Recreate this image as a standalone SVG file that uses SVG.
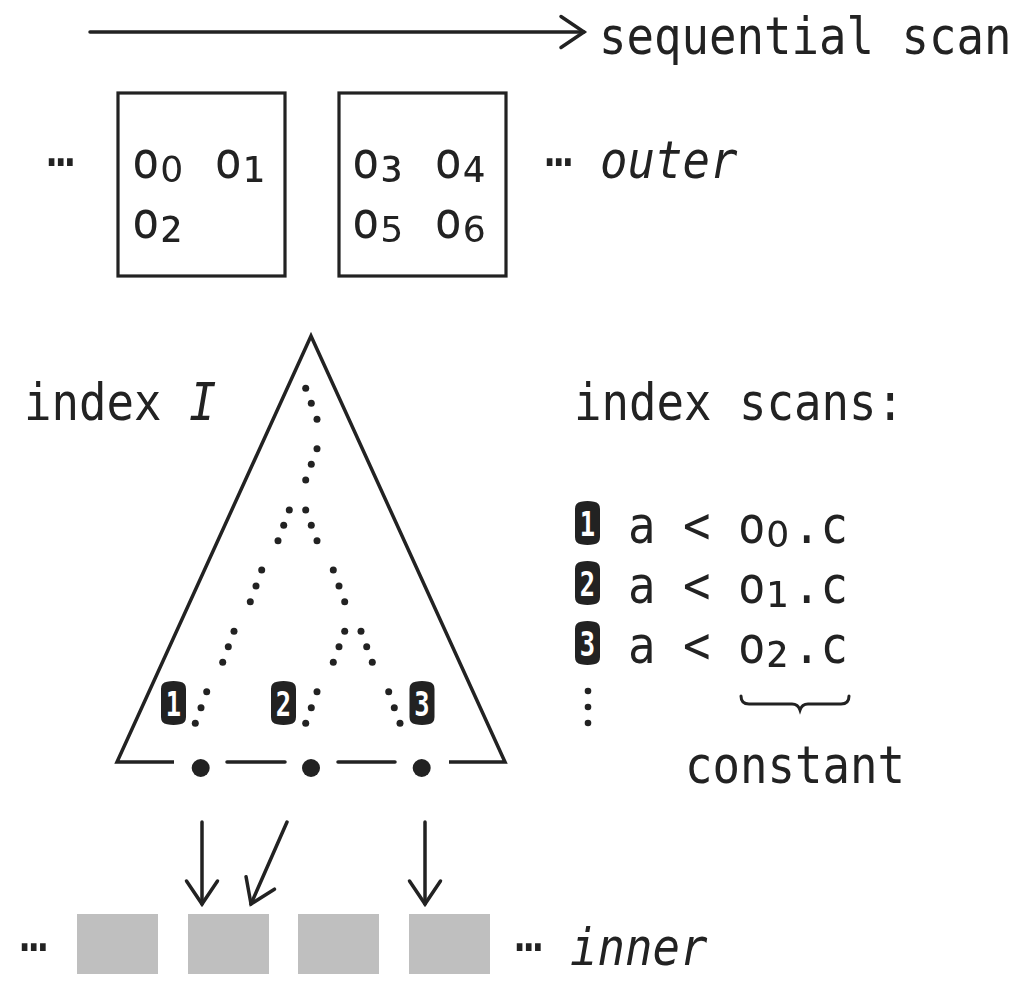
<svg xmlns="http://www.w3.org/2000/svg" width="1034" height="984" viewBox="0 0 1034 984">
<style>
 text { font-family: "DejaVu Sans Mono", monospace; font-size: 52px; fill: #222; }
 .it { font-style: italic; }
 .sub { font-family: "DejaVu Sans", sans-serif; font-size: 64px; }
 .num { font-size: 34px; font-weight: bold; fill: #fff; text-anchor: middle; }
 .ln { stroke: #222; stroke-width: 3.5; fill: none; stroke-linecap: round; }
 .box { fill: none; stroke: #222; stroke-width: 3.2; }
 .dot { fill: #222; }
 .blk { fill: #bfbfbf; }
 .badge { fill: #222; }
</style>
<defs>
 <marker id="ah" markerUnits="userSpaceOnUse" viewBox="-30 -20 36 40" markerWidth="36" markerHeight="40" refX="0" refY="0" orient="auto" overflow="visible">
  <path d="M-23,-15.5 L0,0 L-23,15.5" fill="none" stroke="#222" stroke-width="3.5" stroke-linecap="round" stroke-linejoin="miter"/>
 </marker>
 <path id="bdg" d="M0,8 Q0,1.5 6,0.8 Q12.5,-0.6 19,0.8 Q25,1.5 25,8 V36 Q25,42.5 19,43.2 Q12.5,44.6 6,43.2 Q0,42.5 0,36 Z"/>
</defs>

<g id="seq-label">
 <text transform="translate(599,54) scale(0.8785,1)">sequential scan</text>
</g>

<g id="outer">
 <text transform="translate(47,165.5) scale(0.8785,1)">…</text>
 <g id="page1">
  <rect class="box" x="118" y="93" width="167" height="183"/>
  <text transform="translate(132,178) scale(0.8785,1)"><tspan x="0">o</tspan><tspan class="sub" x="32.1" y="4">₀</tspan><tspan x="62.6" y="0"> o</tspan><tspan class="sub" x="126" y="4">₁</tspan></text>
  <text transform="translate(132,238) scale(0.8785,1)"><tspan x="0">o</tspan><tspan class="sub" x="32.1" y="4">₂</tspan></text>
 </g>
 <g id="page2">
  <rect class="box" x="339" y="93" width="167" height="183"/>
  <text transform="translate(352,178) scale(0.8785,1)"><tspan x="0">o</tspan><tspan class="sub" x="32.1" y="4">₃</tspan><tspan x="62.6" y="0"> o</tspan><tspan class="sub" x="126" y="4">₄</tspan></text>
  <text transform="translate(352,238) scale(0.8785,1)"><tspan x="0">o</tspan><tspan class="sub" x="32.1" y="4">₅</tspan><tspan x="62.6" y="0"> o</tspan><tspan class="sub" x="126" y="4">₆</tspan></text>
 </g>
 <text transform="translate(545,165.5) scale(0.8785,1)">…</text>
 <text class="it" transform="translate(600,178) scale(0.8785,1)">outer</text>
</g>

<g id="index">
 <text transform="translate(24,420) scale(0.8785,1)">index <tspan class="it">I</tspan></text>
 <path class="ln" style="stroke-linecap:butt;stroke-linejoin:miter" d="M174,762 H117 L311,336 L505,762 H449"/>
 <path class="ln" d="M227,762 H285 M338,762 H395"/>
 <circle class="dot" cx="200.7" cy="768" r="9"/>
 <circle class="dot" cx="311" cy="768" r="9"/>
 <circle class="dot" cx="421.7" cy="768" r="9"/>
 <g id="path-dots" class="dot">
  <circle cx="305.7" cy="388.3" r="3.5"/><circle cx="311.3" cy="403.3" r="3.5"/><circle cx="317" cy="419.3" r="3.5"/>
  <circle cx="317" cy="448.7" r="3.5"/><circle cx="311.3" cy="464.3" r="3.5"/><circle cx="305.7" cy="480" r="3.5"/>
  <circle cx="289.3" cy="510" r="3.5"/><circle cx="283.7" cy="525.3" r="3.5"/><circle cx="278" cy="540.7" r="3.5"/>
  <circle cx="305.7" cy="510" r="3.5"/><circle cx="311.3" cy="525.3" r="3.5"/><circle cx="317" cy="540.7" r="3.5"/>
  <circle cx="261.7" cy="570" r="3.5"/><circle cx="256" cy="586" r="3.5"/><circle cx="250.3" cy="601.7" r="3.5"/>
  <circle cx="333.3" cy="570" r="3.5"/><circle cx="339" cy="586" r="3.5"/><circle cx="344.7" cy="601.7" r="3.5"/>
  <circle cx="234" cy="631.3" r="3.5"/><circle cx="228.3" cy="646.7" r="3.5"/><circle cx="222.7" cy="662.3" r="3.5"/>
  <circle cx="344.7" cy="631.3" r="3.5"/><circle cx="339" cy="646.7" r="3.5"/><circle cx="333.3" cy="662.3" r="3.5"/>
  <circle cx="361" cy="631.3" r="3.5"/><circle cx="366.7" cy="646.7" r="3.5"/><circle cx="372.3" cy="662.3" r="3.5"/>
  <circle cx="206.7" cy="691.7" r="3.5"/><circle cx="201" cy="707.7" r="3.5"/><circle cx="195.3" cy="723.3" r="3.5"/>
  <circle cx="317" cy="691.7" r="3.5"/><circle cx="311.3" cy="707.7" r="3.5"/><circle cx="305.7" cy="723.3" r="3.5"/>
  <circle cx="388.7" cy="691.7" r="3.5"/><circle cx="394.3" cy="707.7" r="3.5"/><circle cx="400" cy="723.3" r="3.5"/>
 </g>
 <g id="tbadge1"><use href="#bdg" class="badge" x="161" y="681"/><text class="num" transform="translate(173.5,716) scale(0.75,1)">1</text></g>
 <g id="tbadge2"><use href="#bdg" class="badge" x="271" y="681"/><text class="num" transform="translate(283.5,716) scale(0.75,1)">2</text></g>
 <g id="tbadge3"><use href="#bdg" class="badge" x="409.5" y="681"/><text class="num" transform="translate(422,716) scale(0.75,1)">3</text></g>
</g>

<g id="scans">
 <text transform="translate(574,420) scale(0.8785,1)">index scans:</text>
 <g id="scan1"><use href="#bdg" class="badge" x="575" y="501"/><text class="num" transform="translate(587.5,536) scale(0.75,1)">1</text>
  <text transform="translate(628,543) scale(0.8785,1)"><tspan x="0">a &lt; o</tspan><tspan class="sub" x="157.3" y="4">₀</tspan><tspan x="187.8" y="0">.c</tspan></text></g>
 <g id="scan2"><use href="#bdg" class="badge" x="575" y="561"/><text class="num" transform="translate(587.5,596) scale(0.75,1)">2</text>
  <text transform="translate(628,603) scale(0.8785,1)"><tspan x="0">a &lt; o</tspan><tspan class="sub" x="157.3" y="4">₁</tspan><tspan x="187.8" y="0">.c</tspan></text></g>
 <g id="scan3"><use href="#bdg" class="badge" x="575" y="621"/><text class="num" transform="translate(587.5,656) scale(0.75,1)">3</text>
  <text transform="translate(628,663) scale(0.8785,1)"><tspan x="0">a &lt; o</tspan><tspan class="sub" x="157.3" y="4">₂</tspan><tspan x="187.8" y="0">.c</tspan></text></g>
 <g id="vdots" class="dot"><circle cx="588" cy="691" r="3.3"/><circle cx="588" cy="707" r="3.3"/><circle cx="588" cy="723" r="3.3"/></g>
 <path class="ln" style="stroke-width:3" d="M741,696 Q741,704 749,704 L792,704 Q798,704 800,710 Q802,704 808,704 L841,704 Q849,704 849,696"/>
 <text transform="translate(685,783) scale(0.8785,1)">constant</text>
</g>

<g id="inner">
 <text transform="translate(20,951) scale(0.8785,1)">…</text>
 <rect class="blk" x="77" y="914" width="81" height="60"/>
 <rect class="blk" x="188" y="914" width="81" height="60"/>
 <rect class="blk" x="298" y="914" width="81" height="60"/>
 <rect class="blk" x="409" y="914" width="81" height="60"/>
 <text transform="translate(515,951) scale(0.8785,1)">…</text>
 <text class="it" transform="translate(570,965) scale(0.8785,1)">inner</text>
</g>

<g id="connectors">
 <path class="ln" marker-end="url(#ah)" d="M90,32 H584"/>
 <path class="ln" marker-end="url(#ah)" d="M202,822 V904"/>
 <path class="ln" marker-end="url(#ah)" d="M287,822 L251,904"/>
 <path class="ln" marker-end="url(#ah)" d="M425,822 V904"/>
</g>
</svg>
